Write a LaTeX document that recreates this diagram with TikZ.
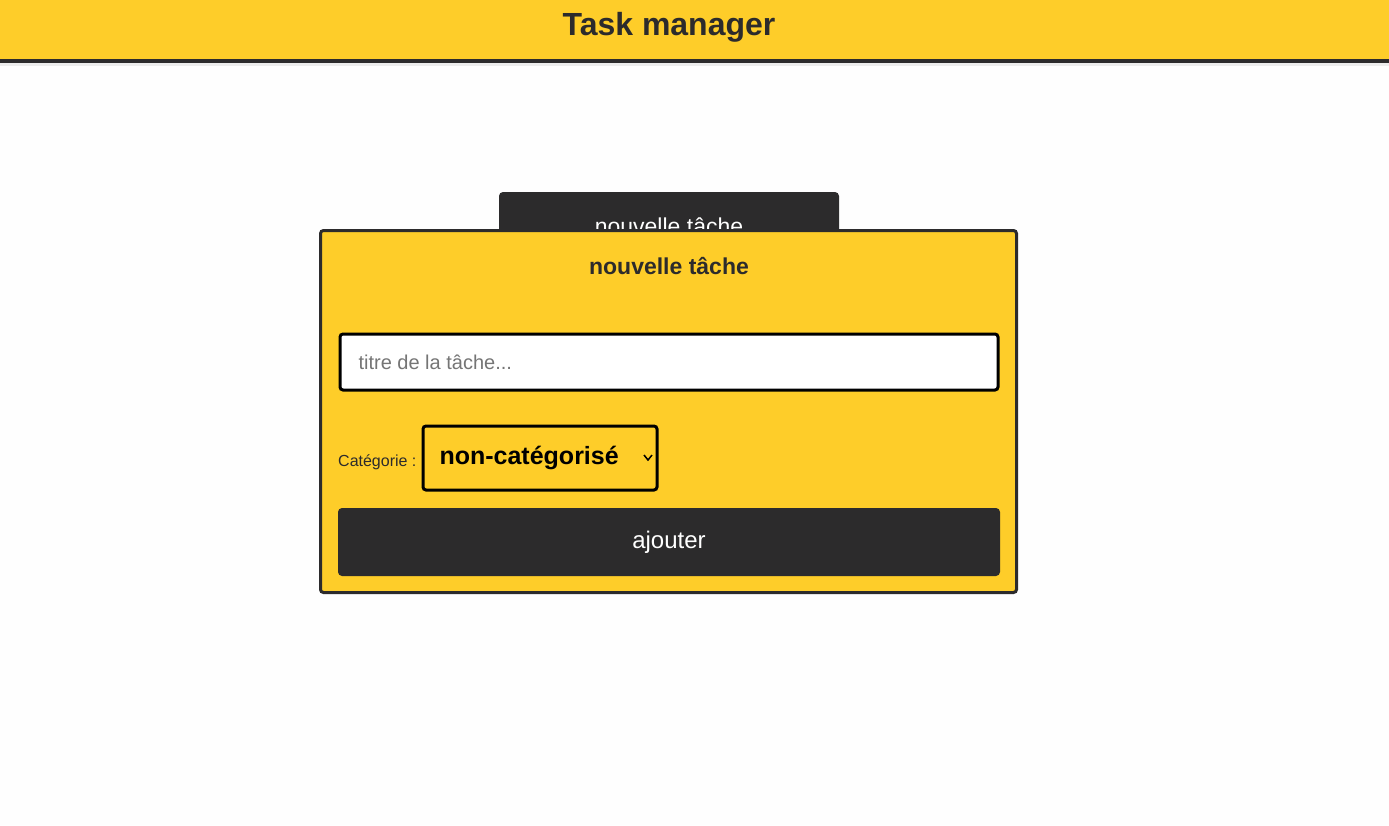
\documentclass[tikz,border=0pt]{standalone}
\usepackage{fontspec}
\setmainfont{Liberation Sans}
\definecolor{jaune}{HTML}{FECD29}
\definecolor{sombre}{HTML}{2C2B2C}
\definecolor{gristexte}{HTML}{757575}
\tikzset{
  btn/.style={fill=sombre, rounded corners=4pt},
  champ/.style={draw=black, line width=3pt, rounded corners=3pt},
}
\begin{document}
\begin{tikzpicture}[x=1pt,y=-1pt]
      \useasboundingbox (0,0) rectangle (1389,825);
      \fill [white!99!gray] (0,0) rectangle (1389,825);
      % en-tete
      \fill [jaune] (0,0) rectangle (1389,59);
      \fill [sombre] (0,59) rectangle (1389,62.5);
      \fill [gray!15] (0,62.5) rectangle (1389,66);
      \node (titre) at (669,27) {\fontsize{32}{36}\selectfont\bfseries\color{sombre}Task manager};

      % bouton derriere le panneau
      \fill [btn] (499,192) rectangle (839,240);
      \node (btnnouv) at (669,226) {\fontsize{23}{26}\selectfont\color{white}nouvelle tâche};

      % panneau
      \draw [fill=jaune, draw=sombre, line width=3pt, rounded corners=3pt] (320.5,230.5) rectangle (1016.5,592.5);
      \node (entete) at (669,266) {\fontsize{23}{26}\selectfont\bfseries\color{sombre}nouvelle tâche};

      \draw [champ, fill=white] (340,334) rectangle (998,390);
      \node [anchor=west] (saisie) at (355,362) {\fontsize{20}{24}\selectfont\color{gristexte}titre de la tâche...};

      \node [anchor=west, inner sep=0pt] (categ) at (338,462) {\fontsize{16}{19}\selectfont\color{sombre}Catégorie :};
      \draw [champ] (423,426) rectangle (657,490);
      \node [anchor=west] (choix) at (436,458) {\fontsize{25}{28}\selectfont\bfseries non-catégorisé};
      \draw [line width=1.5pt] (644,455) -- (648,460) -- (652,455);

      \fill [btn] (338,508) rectangle (1000,576);
      \node (ajout) at (669,542) {\fontsize{24}{28}\selectfont\color{white}ajouter};
\end{tikzpicture}
\end{document}
